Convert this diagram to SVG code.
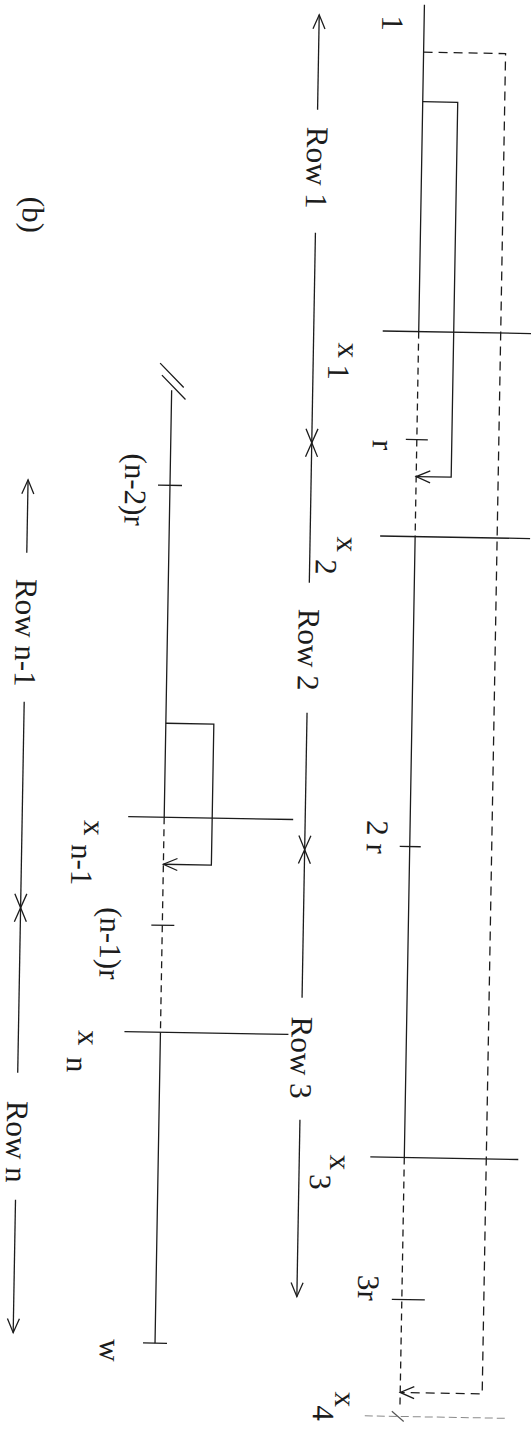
<svg xmlns="http://www.w3.org/2000/svg" width="531" height="1431" viewBox="0 0 531 1431">
<style>
.ln{stroke:#1c1c1c;stroke-width:1.3;fill:none}
.ds{stroke-dasharray:7 5}
.dl{stroke-dasharray:9 6}
.t{font-family:"Liberation Serif","Times New Roman",serif;font-size:31px;fill:#1c1c1c;text-anchor:middle}
</style>
<defs>
<marker id="ah" markerUnits="userSpaceOnUse" markerWidth="14" markerHeight="12" viewBox="0 0 14 12" refX="14" refY="6" orient="auto" overflow="visible">
<path d="M0,0 L14,6 L0,12" fill="none" stroke="#1c1c1c" stroke-width="1.3"/>
</marker>
</defs>
<rect width="531" height="1431" fill="#fff"/>
<g transform="rotate(1 265 715)">
<g id="upper-line">
<path class="ln" d="M412,2 V329 M412,534 V1155"/>
<path class="ln ds" d="M412,329 V534 M412,1155 V1402"/>
<path class="ln" d="M376,329 H526 M377,534 H527 M378,1155 H526"/>
<path class="ln" d="M401,437 H423 M402,844 H423 M402,1297 H435"/>
</g>
<g id="connectors">
<path class="ln" d="M412,99 H447 V474 H412" marker-end="url(#ah)"/>
<path class="ln dl" d="M412,49.5 H494 V1390 H412" marker-end="url(#ah)"/>
<path class="ln" d="M166,725 H214 V866 H166" marker-end="url(#ah)"/>
<path class="ln" d="M307,109 V14" marker-end="url(#ah)"/>
<path class="ln" d="M307,232 V442" marker-end="url(#ah)"/>
<path class="ln" d="M307,582 V442" marker-end="url(#ah)"/>
<path class="ln" d="M307,712 V849" marker-end="url(#ah)"/>
<path class="ln" d="M307,997 V849" marker-end="url(#ah)"/>
<path class="ln" d="M307,1119 V1296" marker-end="url(#ah)"/>
<path class="ln" d="M24,557 V484" marker-end="url(#ah)"/>
<path class="ln" d="M24,706 V912" marker-end="url(#ah)"/>
<path class="ln" d="M24,1077 V912" marker-end="url(#ah)"/>
<path class="ln" d="M24,1204 V1337" marker-end="url(#ah)"/>
</g>
<g id="lower-line">
<path class="ln" d="M154,365 L178,389 M156,377 L180,401"/>
<path class="ln" d="M166,392 V819 M166,1034 V1345"/>
<path class="ln ds" d="M166,819 V1034"/>
<path class="ln" d="M154,487 H178 M155,927 H178 M154,1345 H178 M130,819 H295 M130,1034 H294"/>
</g>
<g id="cut-edge">
<path d="M377,1414 H519" stroke="#8a8a8a" stroke-width="1" stroke-dasharray="8 4" fill="none"/>
<path d="M404,1409 L416,1419" stroke="#555" stroke-width="1.2" fill="none"/>
</g>
<g id="labels-upper">
<text class="t" x="370" y="21" transform="rotate(90 370 21)">1</text>
<text class="t" x="332" y="349" transform="rotate(90 332 349)">x</text>
<text class="t" x="322" y="371" transform="rotate(90 322 371)">1</text>
<text class="t" x="368" y="443" transform="rotate(90 368 443)">r</text>
<text class="t" x="334" y="543" transform="rotate(90 334 543)">x</text>
<text class="t" x="313" y="566" transform="rotate(90 313 566)">2</text>
<text class="t" x="369" y="835" transform="rotate(90 369 835)">2 r</text>
<text class="t" x="338" y="1161" transform="rotate(90 338 1161)">x</text>
<text class="t" x="318" y="1181" transform="rotate(90 318 1181)">3</text>
<text class="t" x="368" y="1286" transform="rotate(90 368 1286)">3r</text>
<text class="t" x="347" y="1398" transform="rotate(90 347 1398)">x</text>
<text class="t" x="325" y="1412" transform="rotate(90 325 1412)">4</text>
<text class="t" x="297" y="167" transform="rotate(90 297 167)">Row 1</text>
<text class="t" x="297" y="649" transform="rotate(90 297 649)">Row 2</text>
<text class="t" x="297" y="1057" transform="rotate(90 297 1057)">Row 3</text>
</g>
<g id="labels-lower">
<text class="t" x="121" y="492" transform="rotate(90 121 492)">(n-2)r</text>
<text class="t" x="104" y="946" transform="rotate(90 104 946)">(n-1)r</text>
<text class="t" x="86" y="831" transform="rotate(90 86 831)">x</text>
<text class="t" x="74" y="868" transform="rotate(90 74 868)">n-1</text>
<text class="t" x="84" y="1041" transform="rotate(90 84 1041)">x</text>
<text class="t" x="73" y="1068" transform="rotate(90 73 1068)">n</text>
<text class="t" x="111" y="1353" transform="rotate(90 111 1353)">w</text>
<text class="t" x="14" y="637" transform="rotate(90 14 637)">Row n-1</text>
<text class="t" x="14" y="1146" transform="rotate(90 14 1146)">Row n</text>
<text class="t" x="14" y="219" transform="rotate(90 14 219)">(b)</text>
</g>
</g>
</svg>
